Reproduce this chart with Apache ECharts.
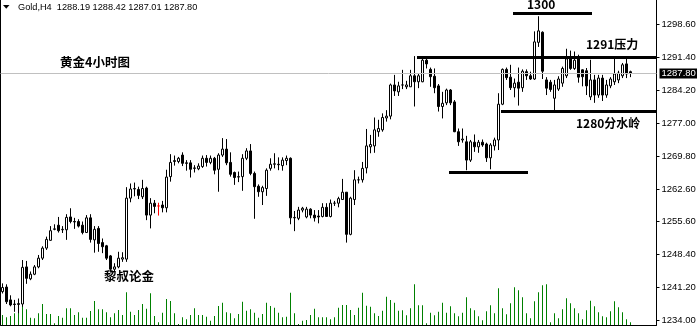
<!DOCTYPE html>
<html><head><meta charset="utf-8">
<script src="https://cdn.jsdelivr.net/npm/echarts@6/dist/echarts.min.js"></script>
<style>html,body{margin:0;padding:0;background:#fff}#c{width:697px;height:326px}</style>
</head><body><div id="c"></div>
<script>
// ---- data (Gold H4) ----
const opens = [
1240.2,1241.2,1238.4,1237.5,1237.4,1237.5,1245.6,1243.0,1244.0,1245.6,
1247.5,1249.7,1251.4,1253.8,1254.7,1253.7,1253.7,1256.5,1255.5,1255.5,
1254.7,1253.1,1256.3,1251.5,1254.0,1250.9,1250.2,1248.0,1245.1,1245.6,
1247.3,1247.3,1260.6,1262.6,1262.5,1260.9,1262.8,1256.9,1259.5,1258.9,
1259.1,1258.5,1265.3,1268.6,1268.6,1270.0,1268.3,1268.3,1267.1,1267.0,
1267.5,1269.3,1268.4,1269.3,1266.9,1270.0,1271.3,1268.4,1266.2,1265.2,
1265.3,1269.3,1270.9,1266.0,1263.2,1262.0,1262.7,1267.1,1268.0,1268.0,
1267.7,1268.8,1269.3,1256.3,1256.2,1258.0,1256.5,1258.2,1256.9,1256.7,
1256.6,1258.6,1256.6,1259.5,1259.5,1260.3,1261.9,1252.7,1260.3,1264.6,
1264.6,1267.2,1271.8,1272.0,1275.1,1275.5,1278.1,1278.5,1285.3,1283.8,
1285.3,1284.9,1284.9,1287.3,1286.0,1286.0,1290.7,1288.7,1287.2,1285.1,
1280.6,1281.4,1284.2,1281.6,1275.1,1273.3,1272.9,1268.9,1272.8,1271.8,
1272.8,1272.4,1269.4,1272.0,1273.3,1281.1,1288.7,1287.0,1284.7,1285.9,
1284.7,1288.2,1287.3,1286.6,1294.6,1296.8,1286.4,1285.9,1282.4,1284.4,
1285.7,1287.3,1291.0,1288.9,1291.1,1288.6,1288.4,1282.7,1286.4,1283.1,
1286.8,1283.1,1285.1,1286.0,1286.4,1287.3,1289.9,1288.19];
const closes = [
1241.1,1238.0,1237.3,1237.4,1237.6,1245.5,1243.1,1244.0,1245.6,1247.5,
1249.7,1251.6,1253.5,1253.9,1253.5,1253.8,1256.4,1255.5,1255.4,1254.5,
1253.1,1256.3,1251.6,1253.8,1250.7,1250.0,1247.5,1245.1,1245.6,1247.5,
1247.6,1260.6,1262.6,1262.7,1261.2,1262.7,1256.9,1259.5,1258.8,1258.9,
1258.5,1265.2,1268.4,1268.8,1269.3,1268.2,1268.2,1266.9,1267.2,1267.6,
1269.3,1268.4,1269.3,1266.7,1270.0,1271.3,1268.3,1265.8,1265.1,1265.3,
1269.3,1270.9,1266.0,1263.1,1262.0,1262.9,1266.7,1268.0,1268.1,1267.9,
1268.9,1269.3,1256.3,1256.4,1258.0,1258.4,1258.2,1256.9,1256.3,1256.5,
1258.6,1256.6,1259.5,1259.5,1260.5,1261.9,1252.7,1260.6,1264.6,1264.6,
1267.1,1272.0,1272.3,1275.5,1275.8,1278.2,1278.5,1285.3,1284.0,1285.1,
1285.3,1285.3,1287.3,1286.0,1287.3,1290.7,1289.9,1287.1,1284.7,1280.6,
1281.3,1284.2,1281.4,1275.1,1272.9,1273.5,1268.9,1272.9,1271.8,1272.8,
1272.2,1269.4,1272.2,1273.3,1281.1,1288.7,1286.9,1284.7,1285.7,1284.6,
1288.3,1287.3,1286.6,1294.7,1297.1,1288.3,1284.6,1284.3,1285.3,1286.6,
1288.9,1291.0,1288.9,1290.7,1287.0,1287.1,1285.1,1286.4,1283.1,1286.8,
1283.1,1285.3,1286.6,1287.7,1287.9,1289.7,1287.7,1287.80];
const lows = [
1239.8,1237.5,1237.0,1235.8,1235.5,1236.9,1241.9,1242.7,1243.8,1245.3,
1247.1,1249.3,1251.3,1253.6,1253.1,1253.0,1251.5,1255.1,1253.9,1254.2,
1252.7,1253.0,1250.9,1248.7,1248.9,1248.6,1247.1,1244.5,1244.5,1245.3,
1246.7,1246.7,1259.7,1261.0,1260.4,1260.4,1255.8,1254.0,1257.3,1256.8,
1257.5,1257.5,1264.2,1267.7,1268.2,1267.6,1266.6,1265.1,1266.2,1266.7,
1267.2,1267.5,1268.0,1265.8,1262.0,1269.6,1267.8,1265.3,1263.5,1264.1,
1262.2,1268.9,1265.6,1256.1,1260.9,1259.1,1261.1,1266.6,1267.1,1266.7,
1266.6,1267.8,1254.9,1253.4,1255.8,1257.5,1256.2,1256.2,1255.5,1255.1,
1256.4,1256.6,1256.4,1258.9,1258.6,1260.2,1250.9,1252.5,1259.1,1263.8,
1264.0,1266.0,1270.4,1270.5,1274.0,1275.1,1277.3,1277.8,1282.9,1282.9,
1284.4,1284.4,1284.9,1280.6,1284.6,1285.9,1288.9,1284.9,1283.5,1279.5,
1278.0,1280.9,1280.9,1275.0,1272.0,1272.7,1266.7,1268.5,1270.7,1270.5,
1271.8,1268.5,1266.9,1271.0,1271.1,1280.9,1286.4,1284.2,1282.6,1280.8,
1283.8,1286.4,1286.4,1286.4,1293.6,1286.6,1283.1,1283.8,1279.8,1284.0,
1284.9,1286.8,1288.6,1288.6,1285.8,1285.0,1283.1,1282.0,1281.4,1282.5,
1281.8,1282.5,1284.6,1285.3,1285.7,1286.8,1286.8,1287.01];
const highs = [
1242.0,1241.8,1239.4,1238.4,1238.7,1247.1,1246.9,1244.6,1246.0,1248.2,
1250.1,1252.2,1254.5,1254.9,1256.5,1254.5,1257.1,1258.4,1256.3,1256.0,
1255.5,1256.9,1257.1,1254.5,1254.5,1251.8,1250.4,1248.2,1246.4,1248.9,
1248.8,1263.0,1263.8,1264.0,1263.1,1264.6,1263.1,1260.6,1260.2,1259.6,
1260.0,1266.8,1270.2,1269.9,1269.6,1270.6,1268.9,1268.9,1267.8,1268.2,
1269.9,1270.0,1269.9,1269.6,1270.4,1273.7,1273.5,1270.6,1266.4,1266.4,
1270.2,1271.5,1272.4,1266.4,1263.6,1263.3,1267.1,1269.3,1270.4,1269.5,
1269.5,1269.9,1269.5,1257.8,1258.7,1258.7,1258.7,1258.4,1258.0,1258.0,
1259.5,1259.5,1260.3,1260.0,1260.9,1264.8,1261.9,1260.9,1266.7,1265.3,
1268.5,1275.7,1274.4,1278.2,1277.7,1279.1,1279.8,1285.6,1287.5,1286.0,
1288.6,1286.2,1288.6,1291.6,1287.8,1291.1,1291.6,1289.1,1288.9,1285.5,
1283.8,1284.5,1284.4,1282.0,1275.8,1275.8,1274.2,1273.3,1274.5,1273.3,
1273.4,1272.7,1272.6,1273.8,1283.5,1288.9,1289.1,1289.7,1286.7,1289.1,
1288.7,1288.7,1288.2,1297.0,1300.3,1297.0,1287.0,1286.4,1286.4,1287.2,
1289.3,1293.2,1292.8,1292.6,1291.9,1288.7,1289.0,1290.8,1287.5,1287.5,
1287.5,1286.4,1287.0,1291.0,1288.4,1290.1,1291.0,1288.42];
const volumes = [
1000,770,900,1170,2100,2400,1570,730,670,1170,
2100,1100,1100,170,900,730,1670,1670,1000,1270,
730,730,1400,2400,1570,1570,1270,770,1170,1500,
1000,3270,1330,1000,1500,2100,1630,3170,900,270,
1230,2600,2400,1170,100,770,570,1000,1670,1000,
1000,830,430,900,1900,2230,1270,1170,670,1100,
2330,1430,1570,1230,730,1100,2230,1900,1730,1230,
770,830,3230,1170,100,430,500,1000,1630,770,
770,770,570,770,1730,2000,2000,1500,1000,1730,
3230,1930,1830,1170,900,1430,2830,2500,2230,1430,
1470,970,1670,4070,1970,1970,170,1230,970,1330,
2230,1230,1870,1170,870,1230,2770,1670,1470,870,
470,1370,1970,1170,3670,1670,1070,2170,3770,3470,
2770,1170,670,2370,3270,3970,4070,270,1170,670,
1570,2670,2170,1670,1170,570,1470,2430,1870,1270,
870,770,1370,2370,1770,1270,570,270];
const emptySlots = 6;            // chart shift space on the right
const redBarIndex = 39;          // the one red-marked bar
const priceTicks = [1298.6,1291.4,1284.2,1277.0,1269.8,1262.6,1255.6,1248.4,1241.2,1234.0];
const lastPrice = 1287.80;
const headerText = 'Gold,H4  1288.19 1288.42 1287.01 1287.80';
// drawn support/resistance levels: price, first bar index, last bar index
const levelPrices = [1301.0, 1291.4, 1279.6, 1266.3];
const levelFrom   = [128, 104, 125, 112];
const levelTo     = [147, 163, 163, 131];

const categories = Array.from({length: opens.length + emptySlots}, (_, i) => 'b' + i);

const candleData = opens.map((o, i) => {
  const d = { value: [o, closes[i], lows[i], highs[i]] };
  if (i === redBarIndex) d.itemStyle = { color: '#ff0000', color0: '#ff0000', borderColor: '#ff0000', borderColor0: '#ff0000' };
  return d;
});

const chart = echarts.init(document.getElementById('c'), null, { renderer: 'canvas' });
const FONT = 'Liberation Sans';
const CJK = 'Noto Sans CJK SC';

const levelLines = levelPrices.map((p, i) => [
  { coord: [categories[levelFrom[i]], p], lineStyle: { color: '#000', width: 3, type: 'solid', cap: 'square' }, label: { show: false } },
  { coord: [categories[levelTo[i]], p] }
]);

chart.setOption({
  animation: false,
  backgroundColor: '#fff',
  grid: [
    { left: 0.5, top: 0, width: 656, bottom: 1, containLabel: false, outerBoundsMode: 'none' },
    { left: 0.5, width: 656, bottom: 1, height: 60, containLabel: false, outerBoundsMode: 'none' }
  ],
  xAxis: [
    { type: 'category', data: categories, gridIndex: 0, boundaryGap: true,
      axisLine: { show: true, lineStyle: { color: '#000', width: 1 } },
      axisTick: { show: false }, axisLabel: { show: false }, splitLine: { show: false } },
    { type: 'category', data: categories, gridIndex: 1, boundaryGap: true, show: false }
  ],
  yAxis: [
    { type: 'value', gridIndex: 0, position: 'right', min: 1232.92, max: 1303.84,
      axisLine: { show: true, lineStyle: { color: '#000', width: 1 } },
      axisTick: { show: true, inside: false, length: 3, customValues: priceTicks, lineStyle: { color: '#000' } },
      axisLabel: { show: true, customValues: priceTicks, margin: 5, color: '#000',
        fontFamily: FONT, fontSize: 9.5, formatter: v => Number(v).toFixed(2) },
      splitLine: { show: false } },
    { type: 'value', gridIndex: 0, position: 'left', min: 0, max: 1,
      axisLine: { show: true, onZero: false, lineStyle: { color: '#000', width: 1 } },
      axisTick: { show: false }, axisLabel: { show: false }, splitLine: { show: false } },
    { type: 'value', gridIndex: 1, min: 0, max: 6000, show: false, splitLine: { show: false } }
  ],
  series: [
    { type: 'bar', xAxisIndex: 1, yAxisIndex: 2, data: volumes, barWidth: 1, silent: true,
      itemStyle: { color: '#008000' }, z: 1 },
    { type: 'candlestick', xAxisIndex: 0, yAxisIndex: 0, data: candleData, barWidth: 2, silent: true, z: 3,
      itemStyle: { color: '#ffffff', color0: '#000000', borderColor: '#000000', borderColor0: '#000000', borderWidth: 1 },
      markLine: {
        symbol: ['none', 'none'], silent: true, animation: false,
        data: [
          { yAxis: lastPrice, lineStyle: { color: '#c0c0c0', width: 1, type: 'solid' },
            label: { show: true, position: 'end', distance: 3, formatter: lastPrice.toFixed(2),
              color: '#fff', backgroundColor: '#000', padding: [1, 2, 0, 2], fontFamily: FONT, fontSize: 9.5, lineHeight: 9 } }
        ].concat(levelLines)
      }
    }
  ],
  graphic: [
    { type: 'polygon', shape: { points: [[3, 5], [9.5, 5], [6.25, 8.8]] }, style: { fill: '#000' } },
    { type: 'text', x: 18, y: 7.5, style: { text: headerText, fontFamily: FONT, fontSize: 9.2, fill: '#000', verticalAlign: 'middle' } },
    { type: 'text', x: 60, y: 62.5, style: { text: '黄金4小时图', fontFamily: CJK, fontWeight: 'bold', fontSize: 12.5, fill: '#000', verticalAlign: 'middle' } },
    { type: 'text', x: 104, y: 276.5, style: { text: '黎叔论金', fontFamily: CJK, fontWeight: 'bold', fontSize: 12.5, fill: '#000', verticalAlign: 'middle' } },
    { type: 'text', x: 527, y: 4.5, style: { text: '1300', fontFamily: CJK, fontWeight: 'bold', fontSize: 12, fill: '#000', verticalAlign: 'middle' } },
    { type: 'text', x: 586, y: 44.5, style: { text: '1291压力', fontFamily: CJK, fontWeight: 'bold', fontSize: 12, fill: '#000', verticalAlign: 'middle' } },
    { type: 'text', x: 576, y: 123.5, style: { text: '1280分水岭', fontFamily: CJK, fontWeight: 'bold', fontSize: 12, fill: '#000', verticalAlign: 'middle' } }
  ]
});
</script></body></html>
